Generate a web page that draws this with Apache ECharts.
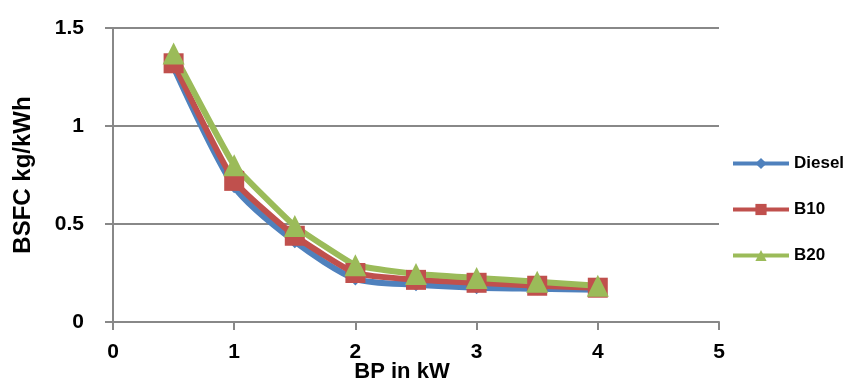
<!DOCTYPE html>
<html><head><meta charset="utf-8">
<script src="https://cdn.jsdelivr.net/npm/echarts@6/dist/echarts.min.js"></script>
<style>html,body{margin:0;padding:0;background:#fff}#c{width:857px;height:383px}</style>
</head><body><div id="c"></div>
<script>
const bp = [0.5, 1, 1.5, 2, 2.5, 3, 3.5, 4];
const diesel = [1.30, 0.69, 0.41, 0.22, 0.19, 0.175, 0.17, 0.165];
const b10 = [1.32, 0.72, 0.44, 0.25, 0.215, 0.20, 0.185, 0.175];
const b20 = [1.37, 0.80, 0.49, 0.29, 0.245, 0.225, 0.205, 0.185];
const xTicks = [0, 1, 2, 3, 4, 5];
const yTicks = [0, 0.5, 1, 1.5];
const seriesNames = ['Diesel', 'B10', 'B20'];

const font = '"Liberation Sans",Arial,sans-serif';
const pair = a => bp.map((x, i) => [x, a[i]]);
const chart = echarts.init(document.getElementById('c'), null, {renderer: 'canvas'});
chart.setOption({
  animation: false,
  grid: {left: 113, right: 138, top: 28, bottom: 61, containLabel: false, outerBoundsMode: 'none'},
  legend: {
    orient: 'vertical', left: 726, top: 150, itemGap: 29,
    itemWidth: 56, itemHeight: 14,
    lineStyle: {width: 4},
    textStyle: {fontFamily: font, fontWeight: 'bold', fontSize: 17, color: '#000'},
    data: seriesNames
  },
  xAxis: {
    type: 'value', min: xTicks[0], max: xTicks[xTicks.length - 1], interval: 1,
    name: 'BP in kW', nameLocation: 'middle', nameGap: 39, nameMoveOverlap: false,
    nameTextStyle: {fontFamily: font, fontWeight: 'bold', fontSize: 22, color: '#000', padding: [0, 28, 0, 0]},
    axisLine: {lineStyle: {color: '#888', width: 2}},
    axisTick: {show: true, length: 8, lineStyle: {color: '#888', width: 2}},
    axisLabel: {fontFamily: font, fontWeight: 'bold', fontSize: 21, color: '#000', margin: 20},
    splitLine: {show: false}
  },
  yAxis: {
    type: 'value', min: yTicks[0], max: yTicks[yTicks.length - 1], interval: 0.5,
    name: 'BSFC kg/kWh', nameLocation: 'middle', nameGap: 78, nameRotate: 90, nameMoveOverlap: false,
    nameTextStyle: {fontFamily: font, fontWeight: 'bold', fontSize: 24, color: '#000'},
    axisLine: {show: true, lineStyle: {color: '#888', width: 2}},
    axisTick: {show: true, length: 8, lineStyle: {color: '#888', width: 2}},
    axisLabel: {fontFamily: font, fontWeight: 'bold', fontSize: 21, color: '#000', margin: 29},
    splitLine: {show: true, lineStyle: {color: '#888', width: 2}}
  },
  series: [
    {name: seriesNames[0], type: 'line', data: pair(diesel), smooth: 0.25,
     symbol: 'diamond', symbolSize: 13,
     itemStyle: {color: '#4f81bd'}, lineStyle: {color: '#4f81bd', width: 6}},
    {name: seriesNames[1], type: 'line', data: pair(b10), smooth: 0.15,
     symbol: 'rect', symbolSize: 20,
     itemStyle: {color: '#c0504d'}, lineStyle: {color: '#c0504d', width: 6}},
    {name: seriesNames[2], type: 'line', data: pair(b20), smooth: 0.1,
     symbol: 'triangle', symbolSize: 22,
     itemStyle: {color: '#9bbb59'}, lineStyle: {color: '#9bbb59', width: 6}}
  ]
});
</script></body></html>
